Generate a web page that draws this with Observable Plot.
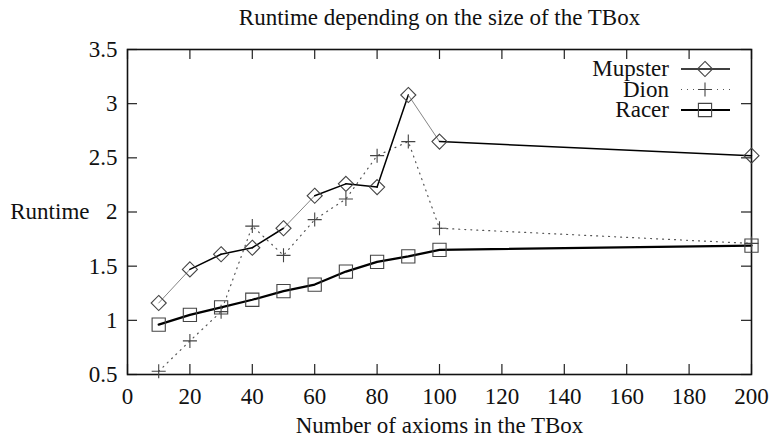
<!DOCTYPE html>
<html><head><meta charset="utf-8">
<script src="https://cdn.jsdelivr.net/npm/d3@7"></script>
<script src="https://cdn.jsdelivr.net/npm/@observablehq/plot@0.6"></script>
<style>
body{margin:0;background:#fff}
svg{display:block}
#chart svg, #chart svg text, #chart svg g { font-family: "Liberation Serif", "Times New Roman", serif !important; }
</style>
</head><body><div id="chart"></div>
<script>
const axioms = [10, 20, 30, 40, 50, 60, 70, 80, 90, 100, 200];
const mupster = [1.16, 1.47, 1.61, 1.67, 1.85, 2.15, 2.26, 2.23, 3.08, 2.65, 2.52];
const dion = [0.53, 0.81, 1.08, 1.87, 1.60, 1.93, 2.12, 2.52, 2.65, 1.85, 1.71];
const racer = [0.96, 1.05, 1.12, 1.19, 1.27, 1.33, 1.45, 1.54, 1.59, 1.65, 1.69];
const seriesNames = ["Mupster", "Dion", "Racer"];
const xTicks = [0, 20, 40, 60, 80, 100, 120, 140, 160, 180, 200];
const yTicks = [0.5, 1, 1.5, 2, 2.5, 3, 3.5];
const title = "Runtime depending on the size of the TBox";
const xLabel = "Number of axioms in the TBox";
const yLabel = "Runtime";

// styling: Mupster segments that the reference draws as a thin grey stroke (by start index)
const thinMupsterSegments = new Set([0, 4, 8]);

const W = 774, H = 439, mL = 127, mR = 23, mT = 49, mB = 65;
const fw = W - mL - mR, fh = H - mT - mB;
const FONT = '"Liberation Serif", "Times New Roman", serif';
const FS = 23;

const rows = (vals) => axioms.map((x, i) => ({x, y: vals[i]}));
const M = rows(mupster), D = rows(dion), R = rows(racer);
const Mseg = M.slice(0, -1).map((p, i) => ({x1: p.x, y1: p.y, x2: M[i + 1].x, y2: M[i + 1].y, thin: thinMupsterSegments.has(i)}));

const markerStroke = "#444";
const plot = Plot.plot({
  width: W, height: H,
  marginLeft: mL, marginRight: mR, marginTop: mT, marginBottom: mB,
  style: {fontFamily: FONT, fontSize: FS + "px", background: "#fff", color: "#111"},
  x: {domain: [0, 200]},
  y: {domain: [0.5, 3.5]},
  marks: [
    Plot.ruleX(xTicks, {x: d => d, insetTop: fh - 10, stroke: "#222", strokeWidth: 1.2}),
    Plot.ruleX(xTicks, {x: d => d, insetBottom: fh - 10, stroke: "#222", strokeWidth: 1.2}),
    Plot.ruleY(yTicks, {y: d => d, insetRight: fw - 10, stroke: "#222", strokeWidth: 1.2}),
    Plot.ruleY(yTicks, {y: d => d, insetLeft: fw - 10, stroke: "#222", strokeWidth: 1.2}),
    Plot.axisX({ticks: xTicks, tickSize: 0, tickPadding: 13, tickFormat: d => String(d), label: null, fontSize: FS}),
    Plot.axisY({ticks: yTicks, tickSize: 0, tickPadding: 10, tickFormat: d => String(d), label: null, fontSize: FS}),
    Plot.frame({stroke: "#111", strokeWidth: 1.6}),
    Plot.text([yLabel], {frameAnchor: "left", dx: -38, textAnchor: "end", lineAnchor: "middle", fontSize: FS}),
    Plot.text([title], {frameAnchor: "top", dy: -25, lineAnchor: "bottom", fontSize: FS}),
    Plot.text([xLabel], {frameAnchor: "bottom", dy: 58, lineAnchor: "bottom", fontSize: FS}),
    Plot.line(D, {x: "x", y: "y", stroke: "#555", strokeWidth: 1.2, strokeDasharray: "1,5"}),
    Plot.link(Mseg, {x1: "x1", y1: "y1", x2: "x2", y2: "y2",
      stroke: d => d.thin ? "#666" : "#000", strokeWidth: d => d.thin ? 0.8 : 1.5, strokeLinecap: "round"}),
    Plot.line(R, {x: "x", y: "y", stroke: "#000", strokeWidth: 2.2}),
    Plot.dot(M, {x: "x", y: "y", symbol: "diamond2", r: 6.8, stroke: markerStroke, strokeWidth: 1.1, fill: "none"}),
    Plot.dot(D, {x: "x", y: "y", symbol: "plus", r: 4.6, stroke: markerStroke, strokeWidth: 1.1}),
    Plot.dot(R, {x: "x", y: "y", symbol: "square2", r: 8.4, stroke: markerStroke, strokeWidth: 1.1, fill: "none"})
  ]
});
document.getElementById("chart").append(plot);

// legend (top-right, inside frame)
const svg = d3.select(plot);
const fx = W - mR;
const g = svg.append("g").attr("font-size", FS);
const legendStyles = [
  {stroke: "#000", width: 1.4, dash: null, symbol: d3.symbolDiamond2, size: Math.PI * 6.8 * 6.8},
  {stroke: "#555", width: 1.2, dash: "1,5", symbol: d3.symbolPlus, size: Math.PI * 4.6 * 4.6},
  {stroke: "#000", width: 2.2, dash: null, symbol: d3.symbolSquare2, size: Math.PI * 8.4 * 8.4}
];
seriesNames.forEach((name, i) => {
  const cy = mT + 20 + i * 20.5;
  const st = legendStyles[i];
  g.append("text").attr("x", fx - 82).attr("y", cy).attr("dy", "0.32em")
    .attr("text-anchor", "end").attr("fill", "#111").text(name);
  g.append("line").attr("x1", fx - 70).attr("x2", fx - 21).attr("y1", cy).attr("y2", cy)
    .attr("stroke", st.stroke).attr("stroke-width", st.width)
    .attr("stroke-dasharray", st.dash);
  g.append("path").attr("transform", `translate(${fx - 46},${cy})`)
    .attr("d", d3.symbol(st.symbol, st.size)())
    .attr("fill", "none").attr("stroke", markerStroke).attr("stroke-width", 1.1);
});
</script>
</body></html>
